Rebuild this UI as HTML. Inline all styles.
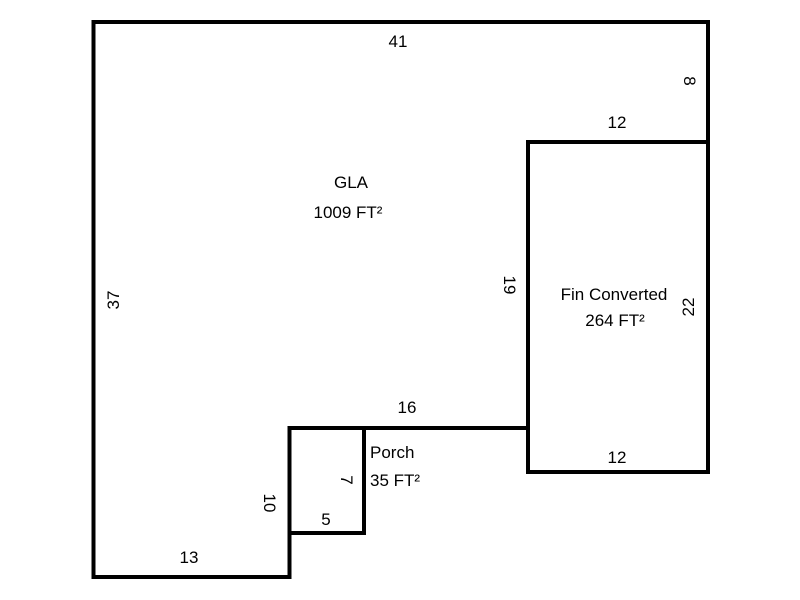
<!DOCTYPE html>
<html><head><meta charset="utf-8"><style>
html,body{margin:0;padding:0;background:#fff;width:800px;height:600px;overflow:hidden}
svg text{font-family:"Liberation Sans",Arial,sans-serif;font-size:17px;fill:#000}
</style></head><body>
<svg width="800" height="600" viewBox="0 0 800 600" xmlns="http://www.w3.org/2000/svg">
<g fill="none" stroke="#000" stroke-width="4" stroke-linecap="square" stroke-linejoin="miter">
<path d="M93.5 22 H708 V472 H528 V428 H289.5 V577 H93.5 Z"/>
<path d="M528 142 H708"/>
<path d="M528 142 V428"/>
<path d="M364 428 V533 H289.5"/>
</g>
<text x="398" y="47" text-anchor="middle">41</text>
<text x="617" y="128" text-anchor="middle">12</text>
<text x="617" y="463" text-anchor="middle">12</text>
<text x="407" y="413" text-anchor="middle">16</text>
<text x="326" y="525" text-anchor="middle">5</text>
<text x="189" y="563" text-anchor="middle">13</text>
<text x="351" y="188" text-anchor="middle">GLA</text>
<text x="348" y="218" text-anchor="middle">1009 FT²</text>
<text x="614" y="300" text-anchor="middle">Fin Converted</text>
<text x="615" y="326" text-anchor="middle">264 FT²</text>
<text x="370" y="458">Porch</text>
<text x="370" y="486">35 FT²</text>
<text transform="translate(119,300) rotate(-90)" text-anchor="middle">37</text>
<text transform="translate(694,307) rotate(-90)" text-anchor="middle">22</text>
<text transform="translate(684,81) rotate(90)" text-anchor="middle">8</text>
<text transform="translate(504,285) rotate(90)" text-anchor="middle">19</text>
<text transform="translate(264,503) rotate(90)" text-anchor="middle">10</text>
<text transform="translate(341,480) rotate(90)" text-anchor="middle">7</text>
</svg>
</body></html>
